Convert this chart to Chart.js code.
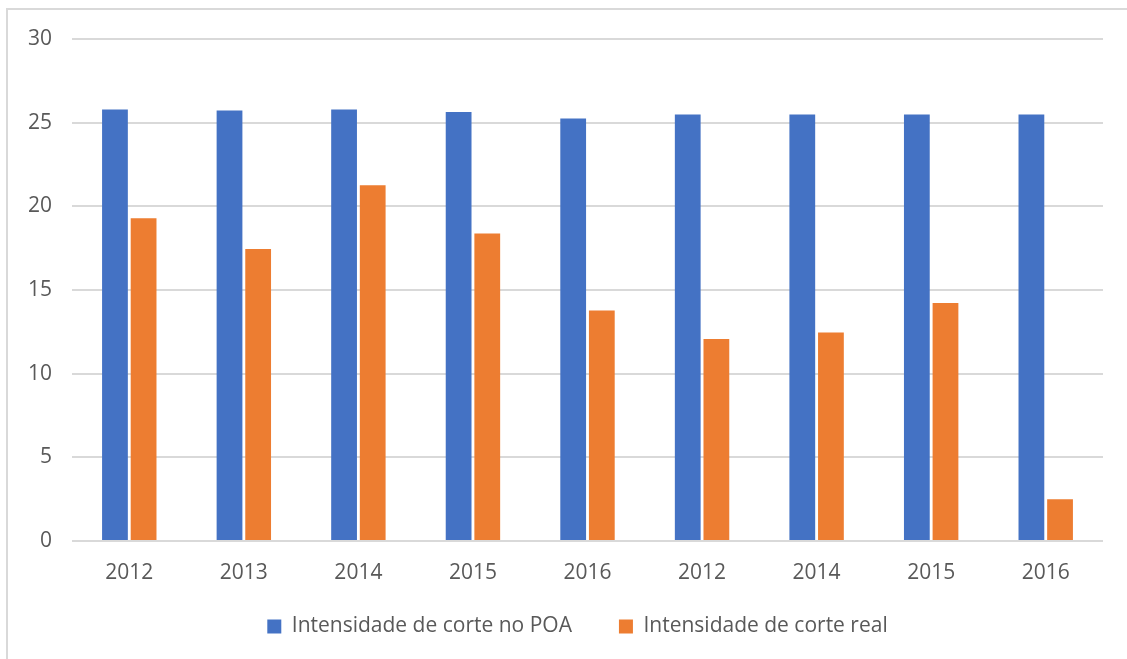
<!DOCTYPE html>
<html>
<head>
<meta charset="utf-8">
<script src="https://cdn.jsdelivr.net/npm/chart.js@4.4.1/dist/chart.umd.min.js"></script>
<style>
  html, body { margin: 0; padding: 0; background: #ffffff; }
  #wrap { position: relative; width: 1127px; height: 659px; }
  canvas { display: block; }
</style>
</head>
<body>
<div id="wrap"><canvas id="chart" width="1127" height="659"></canvas></div>
<script>
// Categories (years) along the x axis
const categories = ["2012", "2013", "2014", "2015", "2016", "2012", "2014", "2015", "2016"];

// Planned cutting intensity (POA)
const intensidadePOA = [25.78, 25.72, 25.78, 25.64, 25.25, 25.49, 25.49, 25.49, 25.49];

// Actual cutting intensity
const intensidadeReal = [19.29, 17.45, 21.26, 18.37, 13.77, 12.07, 12.46, 14.23, 2.49];

// Value axis ticks
const yTicks = [0, 5, 10, 15, 20, 25, 30];

const seriesNames = ["Intensidade de corte no POA", "Intensidade de corte real"];

const FONT = "'Open Sans', 'Noto Sans', sans-serif";
const TEXT = "#595959";
const GRID = "#d9d9d9";

// White background plus the light frame along the top and left edges
const framePlugin = {
  id: "frame",
  beforeDraw(chart) {
    const ctx = chart.ctx;
    ctx.save();
    ctx.fillStyle = "#ffffff";
    ctx.fillRect(0, 0, chart.width, chart.height);
    ctx.strokeStyle = GRID;
    ctx.lineWidth = 2;
    ctx.beginPath();
    ctx.moveTo(7, chart.height);
    ctx.lineTo(7, 9);
    ctx.lineTo(chart.width, 9);
    ctx.stroke();
    ctx.restore();
  }
};

// Place the legend row below the axis labels, centred under the plot
const legendPlacement = {
  id: "legendPlacement",
  afterLayout(chart) {
    const lg = chart.legend;
    if (!lg) return;
    const dx = 26;
    lg.top = 569;
    lg.bottom = chart.height;
    lg.height = lg.bottom - lg.top;
    lg.left += dx;
    lg.right += dx;
  }
};

new Chart(document.getElementById("chart"), {
  type: "bar",
  data: {
    labels: categories,
    datasets: [
      {
        label: seriesNames[0],
        data: intensidadePOA,
        backgroundColor: "#4472C4",
        barPercentage: 0.9,
        categoryPercentage: 0.5
      },
      {
        label: seriesNames[1],
        data: intensidadeReal,
        backgroundColor: "#ED7D31",
        barPercentage: 0.9,
        categoryPercentage: 0.5
      }
    ]
  },
  options: {
    responsive: false,
    animation: false,
    devicePixelRatio: 1,
    layout: { padding: { top: 39, left: 0, right: 24, bottom: 34 } },
    plugins: {
      legend: {
        position: "bottom",
        maxHeight: 40,
        labels: {
          boxWidth: 14,
          boxHeight: 14,
          padding: 47,
          color: TEXT,
          font: { family: FONT, size: 21 }
        }
      },
      tooltip: { enabled: false }
    },
    scales: {
      x: {
        grid: { display: false, drawTicks: false },
        border: { display: false },
        ticks: {
          color: TEXT,
          padding: 19,
          font: { family: FONT, size: 21 },
          maxRotation: 0,
          autoSkip: false
        },
        afterFit(scale) { scale.height = 44; }
      },
      y: {
        min: yTicks[0],
        max: yTicks[yTicks.length - 1],
        afterBuildTicks(scale) { scale.ticks = yTicks.map(v => ({ value: v })); },
        grid: { color: GRID, lineWidth: 2, drawTicks: false },
        border: { display: false },
        ticks: {
          color: TEXT,
          padding: 20,
          font: { family: FONT, size: 21 }
        },
        afterFit(scale) { scale.width = 72; }
      }
    }
  },
  plugins: [framePlugin, legendPlacement]
});
</script>
</body>
</html>
